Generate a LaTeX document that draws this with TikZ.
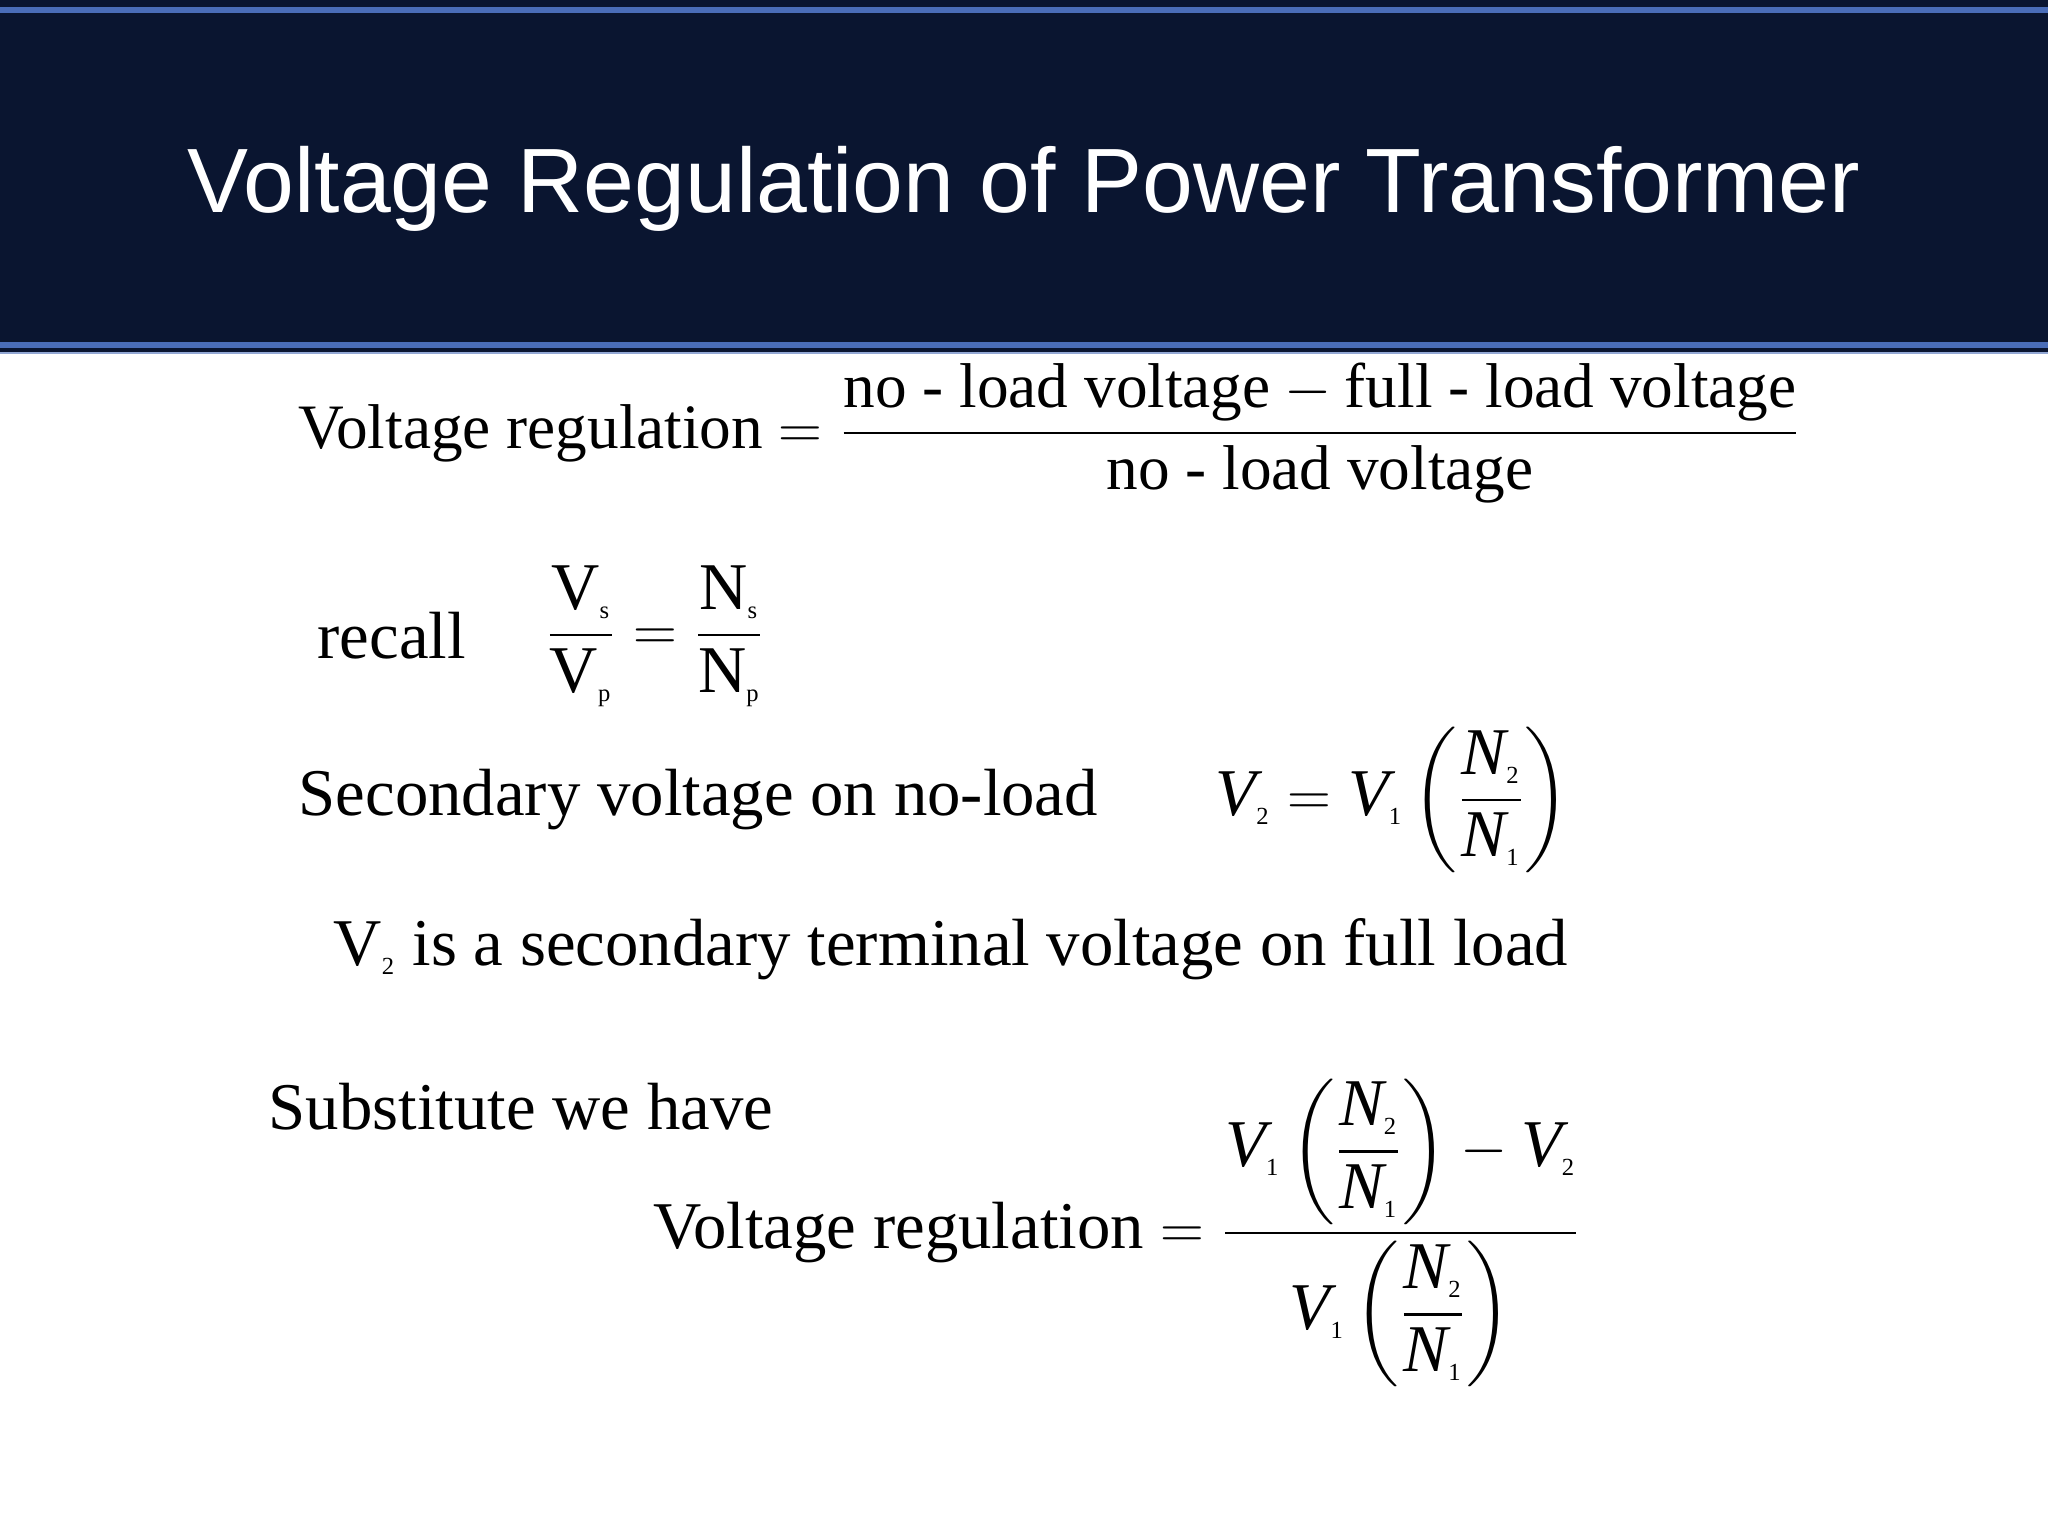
\documentclass[tikz,border=0pt]{standalone}
\usepackage{amsmath}
\usepackage{fontspec}
\setmainfont{Liberation Serif}
\newfontfamily\titlefont{Liberation Sans}
\definecolor{navy}{HTML}{0A1530}
\definecolor{edgeblue}{HTML}{4A6DB8}
\newcommand{\myvi}[1]{\textit{V}_{\text{\scriptsize #1}}}
\newcommand{\myni}[1]{\textit{N}_{\text{\scriptsize #1}}}
\newcommand{\myratio}{\left(\dfrac{\myni{2}}{\myni{1}}\right)}
\begin{document}
\begin{tikzpicture}[x=1cm,y=1cm,
  txt/.style={anchor=west,inner sep=0pt,font=\fontsize{19}{22}\selectfont}]
\useasboundingbox (0,-15.36) rectangle (20.48,0);
\fill[white] (0,-15.36) rectangle (20.48,0);
\fill[navy] (0,0) rectangle (20.48,-3.53);
\draw[edgeblue,line width=1.5pt] (0,-0.1) -- (20.48,-0.1);
\draw[edgeblue,line width=1.5pt] (0,-3.45) -- (20.48,-3.45);
\draw[edgeblue!60,line width=0.8pt] (0,-3.53) -- (20.48,-3.53);
\node[white,font=\titlefont\fontsize{26}{30}\selectfont] (title) at (10.24,-1.89) {Voltage Regulation of Power Transformer};
\node[txt,font=\fontsize{18}{21}\selectfont] (eq1) at (2.98,-4.33) {Voltage regulation $=\dfrac{\text{no - load voltage}-\text{full - load voltage}}{\text{no - load voltage}}$};
\node[txt] (recall) at (3.17,-6.36) {recall};
\node[txt] (eq2) at (5.45,-6.36) {$\dfrac{\text{V}_{\text{\scriptsize s}}}{\text{V}_{\text{\scriptsize p}}}=\dfrac{\text{N}_{\text{\scriptsize s}}}{\text{N}_{\text{\scriptsize p}}}$};
\node[txt] (sec) at (2.98,-8.0) {Secondary voltage on no-load};
\node[txt] (eq3) at (12.15,-8.0) {$\myvi{2}=\myvi{1}\myratio$};
\node[txt] (v2) at (3.33,-9.49) {V$_{\text{\scriptsize 2}}$ is a secondary terminal voltage on full load};
\node[txt] (sub) at (2.68,-11.07) {Substitute we have};
\node[txt] (eq4) at (6.53,-12.33) {Voltage regulation $=\dfrac{\myvi{1}\myratio-\myvi{2}}{\myvi{1}\myratio}$};
\end{tikzpicture}
\end{document}
